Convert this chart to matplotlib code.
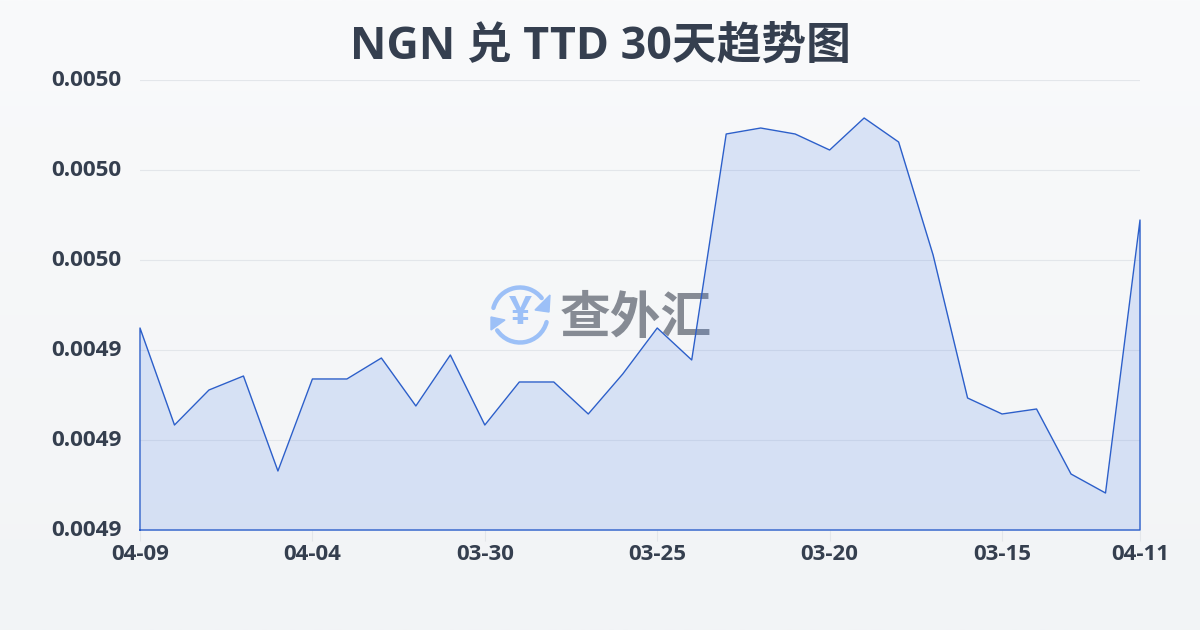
import matplotlib
matplotlib.use("Agg")
import matplotlib.pyplot as plt
from matplotlib.patches import Arc, Polygon
from matplotlib.ticker import FormatStrFormatter
from matplotlib.transforms import ScaledTranslation
import numpy as np

plt.rcParams['font.family'] = ['Open Sans', 'Noto Sans CJK SC', 'DejaVu Sans']

title = "NGN 兑 TTD 30天趋势图"
rates = [0.00494489, 0.00492333, 0.00493111, 0.00493422, 0.00491311, 0.00493356,
         0.00493356, 0.00493822, 0.00492756, 0.00493889, 0.00492333, 0.00493289,
         0.00493289, 0.00492578, 0.00493467, 0.00494489, 0.00493778, 0.004988,
         0.00498933, 0.004988, 0.00498444, 0.00499156, 0.00498622, 0.00496111,
         0.00492933, 0.00492578, 0.00492689, 0.00491244, 0.00490822, 0.00496889]
tick_pos = [0, 5, 10, 15, 20, 25, 29]
tick_labels = ["04-09", "04-04", "03-30", "03-25", "03-20", "03-15", "04-11"]
y_ticks = [0.0049, 0.00492, 0.00494, 0.00496, 0.00498, 0.0050]

text_col = '#353f4f'
line_col = '#2c5fca'

fig = plt.figure(figsize=(12, 6.3), dpi=100)

# background gradient
bg = fig.add_axes([0, 0, 1, 1], zorder=0)
bg.imshow(np.linspace(0, 1, 256).reshape(-1, 1), aspect='auto', extent=[0, 1200, 630, 0],
          cmap=matplotlib.colors.LinearSegmentedColormap.from_list('bg', ['#f9fafb', '#f2f4f6']))
bg.set_xlim(0, 1200)
bg.set_ylim(630, 0)
bg.axis('off')

# watermark, in pixel coordinates of the background
blue = '#9cc0f7'
bg.add_patch(Arc((520, 315), 55, 55, theta1=195, theta2=322, color=blue, lw=3.2, capstyle='round'))
bg.add_patch(Arc((520, 315), 55, 55, theta1=15, theta2=146, color=blue, lw=3.2, capstyle='round'))
bg.add_patch(Polygon([[550, 295], [549, 312], [535, 310]], color=blue))
bg.add_patch(Polygon([[491, 317], [491, 330], [505, 320]], color=blue))
bg.text(520, 314, "¥", color=blue, fontsize=29, fontweight='bold', ha='center', va='center')
bg.text(636, 319, "查外汇", color='#868b94', fontsize=36.5, fontweight='bold', ha='center', va='center',
        family=['Noto Sans CJK SC', 'DejaVu Sans'])

ax = fig.add_axes([140 / 1200, 100 / 630, 1000 / 1200, 450 / 630], zorder=1)
ax.patch.set_alpha(0)
x = np.arange(len(rates))
ax.fill_between(x, rates, 0.0049, color='#3b74e6', alpha=0.16, lw=0, zorder=2)
ax.plot(np.r_[0, x, 29, 0], np.r_[0.0049, rates, 0.0049, 0.0049], color=line_col, lw=1.0,
        clip_on=False, zorder=3)

ax.set_xlim(0, 29)
ax.set_ylim(0.0049, 0.0050)
ax.set_yticks(y_ticks)
ax.yaxis.set_major_formatter(FormatStrFormatter('%.4f'))
ax.grid(axis='y', color='#e3e6ea', lw=0.8, zorder=1)
ax.set_axisbelow(True)
ax.set_xticks(tick_pos)
ax.set_xticklabels(tick_labels)
for s in ax.spines.values():
    s.set_visible(False)
ax.tick_params(axis='y', length=0, pad=13.2, labelsize=16.2, labelcolor=text_col)
ax.tick_params(axis='x', length=8, width=0.8, color='#e3e6ea', pad=2, labelsize=16, labelcolor=text_col)
up = ScaledTranslation(0, 2 / 100, fig.dpi_scale_trans)
for lab in ax.get_yticklabels():
    lab.set_fontweight('bold')
    lab.set_transform(lab.get_transform() + up)
for lab in ax.get_xticklabels():
    lab.set_fontweight('bold')

fig.text(600 / 1200, 1 - 47 / 630, title, fontsize=32.2, fontweight='bold', color=text_col, ha='center', va='center')

fig.savefig('out.png', dpi=100)
